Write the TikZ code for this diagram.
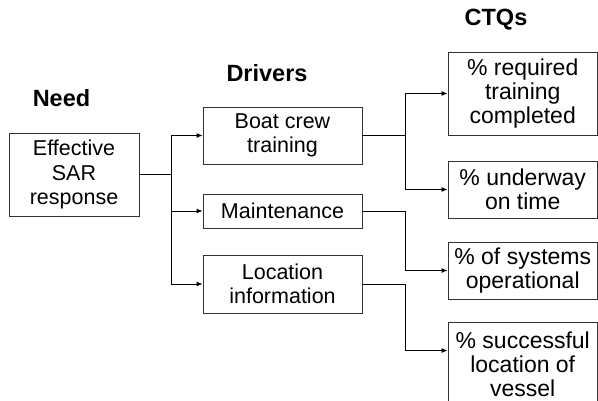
\documentclass[tikz,border=0pt]{standalone}
\usepackage{fontspec}
\setmainfont{Liberation Sans}
\usetikzlibrary{arrows.meta, positioning, calc}

\tikzset{
  box/.style={draw=black!80, line width=0.9pt, align=center, inner sep=0pt,
    font=\fontsize{21.5}{24.5}\selectfont, minimum width=159pt},
  ctqbox/.style={box, font=\fontsize{23}{24}\selectfont, minimum width=149.5pt},
  title/.style={font=\fontsize{23.5}{26}\selectfont\bfseries, anchor=base},
  link/.style={line width=0.9pt, -{Latex[length=6pt,width=5pt]}},
  trunk/.style={line width=1.6pt}
}

\begin{document}
\begin{tikzpicture}[x=1pt, y=-1pt]
\useasboundingbox (0,0) rectangle (598,401);
\clip (0,0) rectangle (598,401);

% headings
\node[title] (needhead) at (61.5,107) {Need};
\node[title] (drvhead) at (267,82) {Drivers};
\node[title] (ctqhead) at (496,26) {CTQs};

% need
\node[box, minimum width=130pt, minimum height=83pt] (need) at (74,174.5) {Effective\\SAR\\response};

% drivers
\node[box, minimum height=57pt] (boat) at (282.5,135.5) {Boat crew\\training};
\node[box, minimum height=34pt] (maint) at (282.5,211) {Maintenance};
\node[box, minimum height=58pt] (loc) at (282.5,284) {Location\\information};

% CTQs
\node[ctqbox, minimum height=83pt] (ctqa) at (522.75,93.5) {\% required\\training\\completed};
\node[ctqbox, minimum height=57pt] (ctqb) at (522.75,189.5) {\% underway\\on time};
\node[ctqbox, minimum height=57pt] (ctqc) at (522.75,270.5) {\% of systems\\operational};
\node[ctqbox, minimum height=84pt] (ctqd) at (522.75,364) {\% successful\\location of\\vessel};

% need -> drivers
\coordinate (fork1) at ($(need.east)+(32pt,0)$);
\draw[trunk] (need.east) -- (fork1);
\draw[link] (fork1) |- (boat.west);
\draw[link] (fork1) |- (maint.west);
\draw[link] (fork1) |- (loc.west);

% drivers -> CTQs
\coordinate (fork2) at ($(boat.east)+(43pt,0)$);
\draw[trunk] (boat.east) -- (fork2);
\draw[link] (fork2) |- (ctqa.west);
\draw[link] (fork2) |- (ctqb.west);
\draw[link] (maint.east) -- ++(43,0) |- (ctqc.west);
\draw[link] (loc.east) -- ++(43,0) |- ([yshift=-29pt]ctqd.north west);

\end{tikzpicture}
\end{document}
